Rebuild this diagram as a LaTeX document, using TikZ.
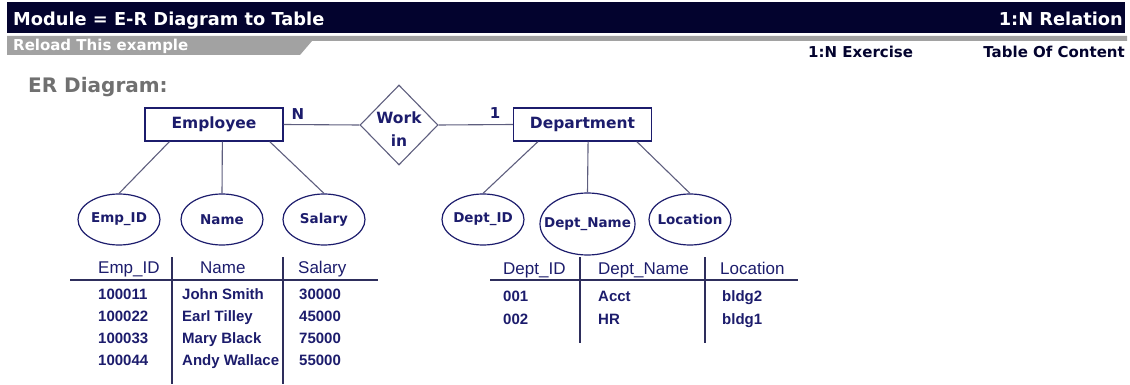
\documentclass[tikz,border=0pt]{standalone}
\usepackage{fontspec}
\setmainfont{Liberation Sans}
\newfontfamily\verd{DejaVu Sans}
\usepackage{tikz}
\usetikzlibrary{shapes}
\usetikzlibrary{calc}
\definecolor{navy}{HTML}{1C1C6C}
\definecolor{barblue}{HTML}{03032E}
\definecolor{bargrey}{HTML}{A2A2A2}
\definecolor{titlegrey}{HTML}{707070}
\definecolor{linkgrey}{HTML}{5E5E7E}
\definecolor{rulenavy}{HTML}{2E2E5C}
\tikzset{
  entity/.style={rectangle,draw=navy,line width=1.3pt,minimum width=138pt,minimum height=33pt,
    font=\verd\bfseries\fontsize{15.5}{15.5}\selectfont,text=navy},
  relation/.style={diamond,draw=linkgrey,line width=1.1pt,minimum width=78pt,minimum height=80pt,
    inner sep=-7pt,align=center,font=\verd\bfseries\fontsize{15.5}{23}\selectfont,text=navy},
  attr/.style={ellipse,draw=navy,line width=1.2pt,minimum width=82pt,minimum height=51pt,
    inner xsep=-10pt,inner ysep=0pt,font=\verd\bfseries\fontsize{13.5}{13.5}\selectfont,text=navy},
  link/.style={draw=linkgrey,line width=1.1pt},
  card/.style={font=\verd\bfseries\fontsize{15}{15}\selectfont,text=navy},
  colhead/.style={anchor=base west,inner sep=0pt,font=\fontsize{17}{17}\selectfont,text=navy},
  cell/.style={anchor=base west,inner sep=0pt,font=\bfseries\fontsize{15}{15}\selectfont,text=navy},
  rule/.style={draw=rulenavy,line width=1.2pt}
}

\begin{document}
\begin{tikzpicture}[x=1pt,y=-1pt]
  \useasboundingbox (0,0) rectangle (1130,385);
  % header bars
  \fill[barblue] (7,2) rectangle (1125,33);
  \fill[bargrey] (7,36) -- (1127,36) -- (1127,41) -- (312,41) -- (300,55) -- (7,55) -- cycle;
  \node[anchor=base west,inner sep=0pt,text=white,font=\verd\bfseries\fontsize{17.8}{17.8}\selectfont] (module) at (13,26) {Module = E-R Diagram to Table};
  \node[anchor=base east,inner sep=0pt,text=white,font=\verd\bfseries\fontsize{17.8}{17.8}\selectfont] (relname) at (1123,26) {1:N Relation};
  \node[anchor=base west,inner sep=0pt,text=white,font=\verd\bfseries\fontsize{15}{15}\selectfont] (reload) at (13,51) {Reload This example};
  \node[anchor=base west,inner sep=0pt,text=barblue,font=\verd\bfseries\fontsize{15}{15}\selectfont] (exercise) at (808,58) {1:N Exercise};
  \node[anchor=base east,inner sep=0pt,text=barblue,font=\verd\bfseries\fontsize{15}{15}\selectfont] (toc) at (1125,58) {Table Of Content};
  \node[anchor=base west,inner sep=0pt,text=titlegrey,font=\verd\bfseries\fontsize{20}{20}\selectfont] (ertitle) at (28,93) {ER Diagram:};

  % entities and relation
  \node[entity] (emp) at (214,124.5) {Employee};
  \node[relation] (work) at (399,125) {\rule{0pt}{20pt}Work\\in};
  \node[entity] (dept) at (582.5,124.5) {Department};
  \draw[link] (emp.east) -- (work.west);
  \draw[link] (work.east) -- (dept.west);
  \node[card] (n) at (298,114) {N};
  \node[card] (one) at (495,113) {1};

  % attributes
  \node[attr] (empid) at (119,219.5) {Emp\_ID};
  \node[attr] (name) at (222,219.5) {Name};
  \node[attr] (salary) at (324,219.5) {Salary};
  \node[attr] (deptid) at (483,219.5) {Dept\_ID};
  \node[attr,minimum width=95pt,minimum height=62pt] (deptname) at (587.5,224) {Dept\_Name};
  \node[attr] (location) at (690,219.5) {Location};
  \draw[link] ($(emp.south west)!.18!(emp.south east)$) -- (empid.north);
  \draw[link] ($(emp.south west)!.56!(emp.south east)$) -- (name.north);
  \draw[link] ($(emp.south west)!.9!(emp.south east)$) -- (salary.north);
  \draw[link] ($(dept.south west)!.18!(dept.south east)$) -- (deptid.north);
  \draw[link] ($(dept.south west)!.54!(dept.south east)$) -- (deptname.north);
  \draw[link] ($(dept.south west)!.89!(dept.south east)$) -- (location.north);

  % employee table
  \node[colhead] (h1) at (98,273) {Emp\_ID};
  \node[colhead] (h2) at (200,273) {Name};
  \node[colhead] (h3) at (298,273) {Salary};
  \draw[rule] (70,280) -- (378,280);
  \draw[rule] (172,257) -- (172,384);
  \draw[rule] (283,257) -- (283,384);
  \foreach \id/\nm/\sal [count=\i] in {100011/John Smith/30000,100022/Earl Tilley/45000,
      100033/Mary Black/75000,100044/Andy Wallace/55000}{
    \node[cell] (eid\i) at (98,277+22*\i) {\id};
    \node[cell] (enm\i) at (182,277+22*\i) {\nm};
    \node[cell] (esl\i) at (299,277+22*\i) {\sal};
  }

  % department table
  \node[colhead] (g1) at (503,274) {Dept\_ID};
  \node[colhead] (g2) at (598,274) {Dept\_Name};
  \node[colhead] (g3) at (720,274) {Location};
  \draw[rule] (490,280) -- (798,280);
  \draw[rule] (580,257) -- (580,343);
  \draw[rule] (705,257) -- (705,343);
  \foreach \id/\nm/\loc [count=\i] in {001/Acct/bldg2,002/HR/bldg1}{
    \node[cell] (did\i) at (503,278+23*\i) {\id};
    \node[cell] (dnm\i) at (598,278+23*\i) {\nm};
    \node[cell] (dlc\i) at (722,278+23*\i) {\loc};
  }
\end{tikzpicture}
\end{document}
